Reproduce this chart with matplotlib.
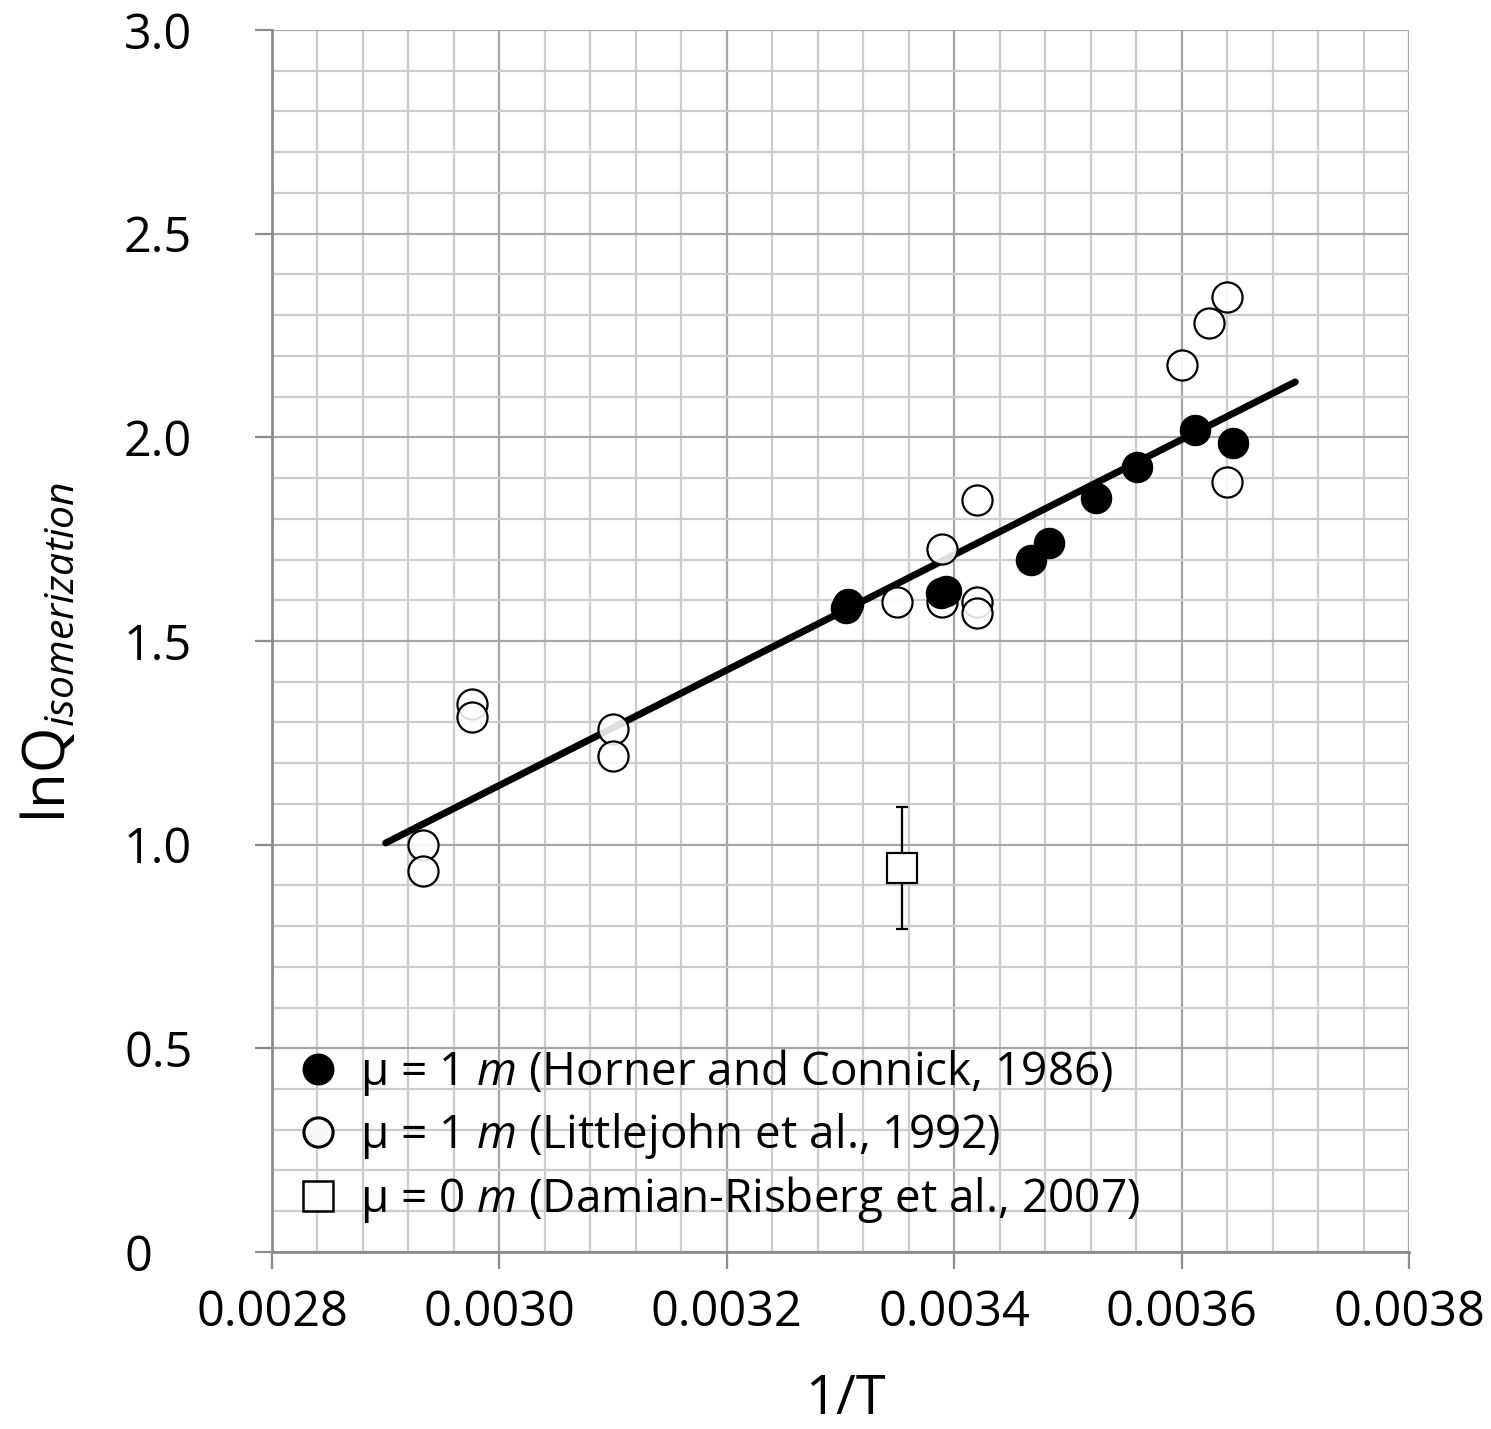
import numpy as np
import matplotlib
matplotlib.use("Agg")
from matplotlib import pyplot as plt
from matplotlib.lines import Line2D
from matplotlib.ticker import MultipleLocator, FixedLocator, FixedFormatter

plt.rcParams['font.family'] = ['Open Sans', 'DejaVu Sans']
plt.rcParams['mathtext.fontset'] = 'custom'
plt.rcParams['mathtext.rm'] = 'Open Sans'
plt.rcParams['mathtext.it'] = 'Open Sans:italic'

# Horner and Connick, 1986 (mu = 1 m)
horner_x = [0.003305, 0.003307, 0.003388, 0.003393, 0.003468, 0.003483, 0.003525, 0.003561, 0.003612, 0.003645]
horner_y = [1.580, 1.592, 1.617, 1.622, 1.699, 1.741, 1.851, 1.927, 2.019, 1.986]

# Littlejohn et al., 1992 (mu = 1 m)
little_x = [0.002933, 0.002933, 0.002976, 0.002976, 0.003100, 0.003100, 0.003350,
            0.003389, 0.003389, 0.003420, 0.003420, 0.003420, 0.003600, 0.003624,
            0.003640, 0.003640]
little_y = [0.999, 0.935, 1.345, 1.313, 1.284, 1.218, 1.596,
            1.726, 1.596, 1.846, 1.596, 1.569, 2.178, 2.281,
            2.345, 1.891]

# Damian-Risberg et al., 2007 (mu = 0 m)
damian_x = [0.003354]
damian_y = [0.943]
damian_err = [0.15]

# linear fit drawn across the data range
fit_x = [0.0029, 0.0037]
fit_y = [1.004, 2.136]

yticks = [0, 0.5, 1.0, 1.5, 2.0, 2.5, 3.0]
ytick_labels = ['0', '0.5', '1.0', '1.5', '2.0', '2.5', '3.0']
xticks = [0.0028, 0.0030, 0.0032, 0.0034, 0.0036, 0.0038]
xtick_labels = ['0.0028', '0.0030', '0.0032', '0.0034', '0.0036', '0.0038']

legend_labels = [r'μ = 1 $\mathit{m}$ (Horner and Connick, 1986)',
                 r'μ = 1 $\mathit{m}$ (Littlejohn et al., 1992)',
                 r'μ = 0 $\mathit{m}$ (Damian-Risberg et al., 2007)']

fig = plt.figure(figsize=(14.91, 14.29), dpi=100)
ax = fig.add_axes([0.1824, 0.1239, 0.7626, 0.8551])

ax.set_xlim(0.0028, 0.0038)
ax.set_ylim(0, 3.0)

# grid: light minor lines, darker major lines
ax.xaxis.set_major_locator(FixedLocator(xticks))
ax.xaxis.set_major_formatter(FixedFormatter(xtick_labels))
ax.yaxis.set_major_locator(FixedLocator(yticks))
ax.yaxis.set_major_formatter(FixedFormatter(ytick_labels))
ax.xaxis.set_minor_locator(MultipleLocator(0.00004))
ax.yaxis.set_minor_locator(MultipleLocator(0.1))
ax.grid(which='minor', color='#cccccc', lw=1.6, zorder=0)
ax.grid(which='major', color='#a6a6a6', lw=1.6, zorder=0)
ax.set_axisbelow(True)

for s in ['top', 'right']:
    ax.spines[s].set_visible(False)
for s in ['left', 'bottom']:
    ax.spines[s].set_color('#8c8c8c')
    ax.spines[s].set_linewidth(2)

ax.tick_params(which='major', direction='out', length=12.5, width=1.6, color='#8c8c8c',
               labelsize=35)
ax.tick_params(axis='x', pad=14)
ax.tick_params(axis='y', pad=94)
for lab in ax.get_yticklabels():
    lab.set_horizontalalignment('left')
ax.tick_params(which='minor', length=0)

ax.plot(fit_x, fit_y, color='black', lw=5, solid_capstyle='round', zorder=2)

ax.scatter(little_x, little_y, s=470, facecolors=(1, 1, 1, 0.88), edgecolors='black',
           linewidths=1.6, zorder=3)
ax.scatter(horner_x, horner_y, s=470, facecolors='black', edgecolors='black',
           linewidths=1.0, zorder=4)
ax.errorbar(damian_x, damian_y, yerr=damian_err, fmt='s', ms=22, mfc='white', mec='black',
            mew=1.6, ecolor='black', elinewidth=1.6, capsize=4, capthick=1.6, zorder=5)

# legend entries show only the marker symbols
proxies = [
    Line2D([], [], ls='', marker='o', ms=22, mfc='black', mec='black', mew=1.0),
    Line2D([], [], ls='', marker='o', ms=21, mfc='#f8f8f8', mec='black', mew=2.2),
    Line2D([], [], ls='', marker='s', ms=22, mfc='#fafcfa', mec='black', mew=1.8),
]
fig.legend(proxies, legend_labels, loc='center left',
           bbox_to_anchor=(295 / 1491, 1 - 1136 / 1429), frameon=False,
           fontsize=33, handlelength=1.0, handletextpad=0.42, labelspacing=0.29,
           borderpad=0, borderaxespad=0)

fig.text(845 / 1491, 1 - 1414 / 1429, '1/T', fontsize=39, ha='center', va='baseline')
fig.text(50 / 1491, 1 - 652 / 1429, r'ln$\mathrm{Q}_{\mathit{isomerization}}$',
         fontsize=42, rotation=90, ha='center', va='center')

fig.savefig('out.png', dpi=100)
